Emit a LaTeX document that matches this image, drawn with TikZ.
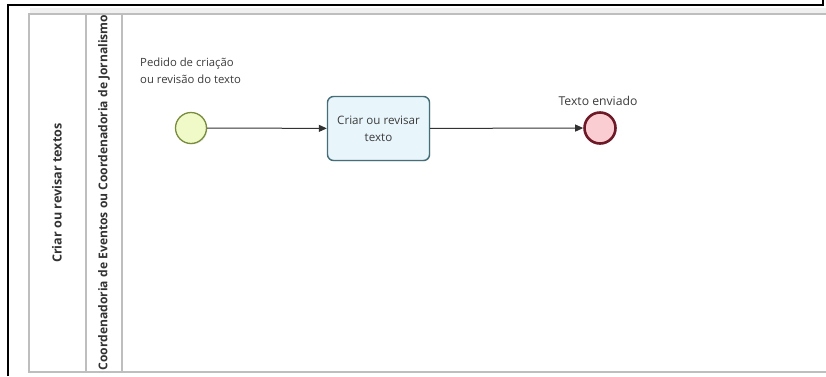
\documentclass[tikz,border=0pt]{standalone}
\usepackage{fontspec}
\setmainfont{Open Sans}
\usetikzlibrary{arrows.meta,shadows}
\definecolor{lanegray}{RGB}{190,190,190}
\definecolor{startfill}{RGB}{240,250,200}
\definecolor{startdraw}{RGB}{120,140,60}
\definecolor{taskfill}{RGB}{232,246,252}
\definecolor{taskdraw}{RGB}{70,110,120}
\definecolor{endfill}{RGB}{250,205,210}
\definecolor{enddraw}{RGB}{110,25,40}
\definecolor{flowgray}{RGB}{50,50,50}
\definecolor{txtgray}{RGB}{60,60,60}
\tikzset{
  lane/.style={draw=lanegray, line width=1.6pt},
  lanelabel/.style={rotate=90, font=\fontsize{12.1}{14}\selectfont\bfseries, text=black!80},
  startev/.style={circle, minimum size=31pt, inner sep=0pt, draw=startdraw, line width=1.3pt, fill=startfill,
     drop shadow={shadow xshift=1pt, shadow yshift=-1pt, opacity=0.15}},
  endev/.style={circle, minimum size=31pt, inner sep=0pt, draw=enddraw, line width=2.6pt, fill=endfill,
     drop shadow={shadow xshift=1pt, shadow yshift=-1pt, opacity=0.15}},
  taskbox/.style={rectangle, rounded corners=6pt, minimum width=102pt, minimum height=64pt, draw=taskdraw,
     line width=1.4pt, fill=taskfill, align=center, font=\fontsize{11.6}{17}\selectfont, text=txtgray,
     drop shadow={shadow xshift=1pt, shadow yshift=-1pt, opacity=0.12}},
  evlabel/.style={font=\fontsize{11.3}{17}\selectfont, text=txtgray, inner sep=0pt},
  flow/.style={draw=flowgray, line width=1pt, -{Triangle[length=8pt,width=7pt]}}
}
\begin{document}
\begin{tikzpicture}[x=1pt,y=-1pt]
  \useasboundingbox (0,0) rectangle (826,376);
  \fill[white] (0,0) rectangle (826,376);
  % outer frame lines
  \draw[line width=2pt] (8,376) -- (8,5) -- (823,5) -- (823,0);
  \fill[black!6] (30,8) rectangle (826,13);
  % pool and lane
  \draw[lane] (829,14) -- (29,14) -- (29,372) -- (829,372);
  \draw[lane] (86,14) -- (86,372);
  \draw[lane] (122,14) -- (122,372);
  \node[lanelabel, font=\fontsize{12.6}{14}\selectfont\bfseries] (pool) at (57,193) {Criar ou revisar textos};
  \node[lanelabel] (lane) at (104,192.5) {Coordenadoria de Eventos ou Coordenadoria de Jornalismo};
  % flow elements
  \node[startev] (start) at (191,128) {};
  \node[evlabel, align=left, anchor=north west] (startlbl) at (140,58) {Pedido de criação\\ou revisão do texto};
  \node[taskbox] (task) at (378.5,128.5) {Criar ou revisar\\texto};
  \node[endev] (end) at (600,128) {};
  \node[evlabel, font=\fontsize{12.2}{17}\selectfont] (endlbl) at (598,101) {Texto enviado};
  \draw[flow] (start) -- (task);
  \draw[flow] (task) -- (end);
\end{tikzpicture}
\end{document}
